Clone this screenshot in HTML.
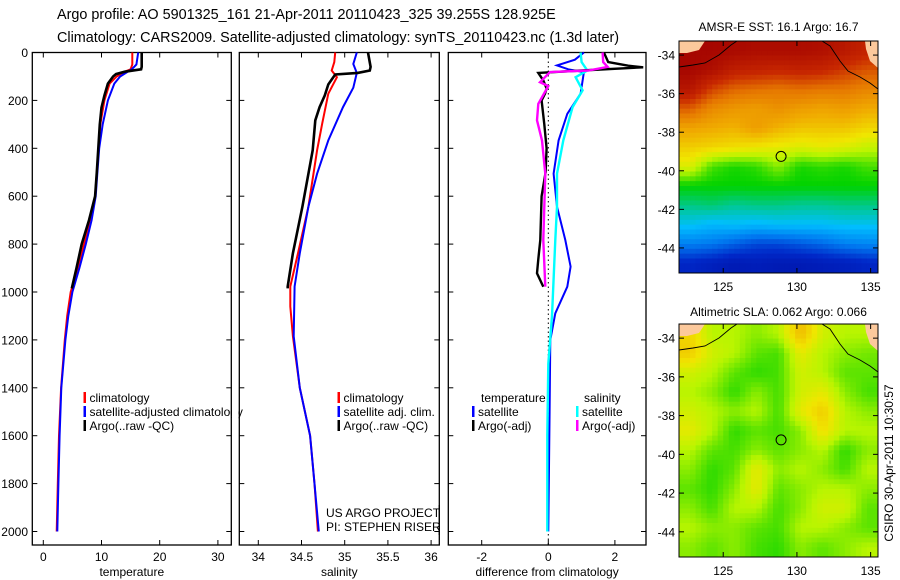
<!DOCTYPE html>
<html><head><meta charset="utf-8">
<style>
html,body{margin:0;padding:0;background:#fff;}
svg{display:block;font-family:"Liberation Sans",sans-serif;}
</style></head>
<body>
<svg id="fig" width="900" height="580" viewBox="0 0 900 580" xmlns="http://www.w3.org/2000/svg">
<rect width="900" height="580" fill="#fff"/>
<text x="57" y="19" font-size="14.4">Argo profile: AO 5901325_161 21-Apr-2011 20110423_325 39.255S 128.925E</text>
<text x="57" y="42" font-size="14.4">Climatology: CARS2009. Satellite-adjusted climatology: synTS_20110423.nc (1.3d later)</text>
<g id="panels"></g>
<g id="maps"></g>
<text transform="translate(893,463) rotate(-90)" font-size="12" text-anchor="middle">CSIRO 30-Apr-2011 10:30:57</text>
</svg>
<script>
// ---------- data ----------
const depthTicks=[0,200,400,600,800,1000,1200,1400,1600,1800,2000];
const tempTicks=[0,10,20,30];
const salTicks=[34,34.5,35,35.5,36];
const diffTicks=[-2,0,2];

const argoTDep=[0,40,60,70,80,90,100,130,180,230,300,400,500,600,700,800,900,985];
const argoT=[16.9,16.9,16.9,16.8,14,12.5,12.0,11.1,10.5,10.0,9.7,9.45,9.2,8.9,7.85,6.6,5.7,4.9];
const climTDep=[0,50,70,80,100,130,200,300,400,500,600,700,800,900,1000,1100,1200,1400,1600,1800,2000];
const climT=[15.3,15.3,15.0,14.0,12.6,11.4,10.5,9.8,9.5,9.2,8.9,8.1,7.0,6.0,4.7,4.1,3.7,3.05,2.7,2.5,2.3];
const satT=[16.3,16.0,15.2,14.5,13.2,12.2,11.1,10.2,9.6,9.3,9.0,8.3,7.3,6.2,5.0,4.3,3.8,3.1,2.8,2.6,2.4];

const argoSDep=[0,60,75,85,92,133,179,228,283,408,644,838,977,985];
const argoS=[35.27,35.30,35.29,35.15,34.89,34.81,34.77,34.71,34.66,34.63,34.51,34.40,34.34,34.34];
const climSDep=[0,40,75,103,172,297,408,644,838,977,1060,1185,1400,1600,1800,2000];
const climS=[34.89,34.88,34.85,34.91,34.81,34.74,34.68,34.58,34.46,34.37,34.37,34.40,34.48,34.60,34.65,34.69];
const satSDep=[0,48,85,147,228,367,506,644,838,977,1185,1400,1600,1800,2000];
const satS=[35.14,35.10,35.14,35.10,34.98,34.81,34.68,34.58,34.48,34.42,34.41,34.48,34.60,34.65,34.70];

const argoDTDep=[0,40,55,62,75,85,117,150,172,200,300,400,500,600,783,863,922,978];
const argoDT=[1.67,1.8,2.4,2.85,1.0,-0.3,-0.15,-0.05,-0.1,-0.2,-0.12,-0.05,-0.08,-0.2,-0.24,-0.3,-0.34,-0.15];
const argoDSDep=[0,40,60,75,82,124,140,214,283,367,506,783,978];
const argoDS=[1.63,1.65,1.78,1.2,0.05,-0.25,0,-0.3,-0.34,-0.19,-0.09,-0.15,-0.09];
const satDTDep=[0,30,54,70,82,172,256,367,506,644,783,894,978,1089,1200,1500,2000];
const satDT=[1.07,0.8,0.26,0.6,1.07,0.97,0.57,0.31,0.16,0.26,0.51,0.67,0.57,0.21,0.06,0.04,0.0];
const satDSDep=[0,40,75,103,158,228,367,506,644,783,1100,1300,1600,2000];
const satDS=[0.97,1.0,1.17,0.82,1.03,0.73,0.45,0.26,0.26,0.21,0.11,0.0,-0.03,-0.03];

const sstGrid=[
[9.8,9.8,9.7,9.6,9.6,9.6,9.5,9.2,8.9],
[9.8,9.5,9.0,8.9,8.8,8.9,8.8,8.5,8.2],
[9.3,8.4,8.0,7.9,7.8,7.9,7.8,7.8,7.6],
[8.1,7.5,7.3,7.2,7.4,7.2,7.1,7.2,7.0],
[7.1,7.0,6.9,7.2,6.9,6.7,6.7,6.7,6.5],
[6.6,6.5,6.4,6.3,6.2,6.1,6.2,6.1,5.9],
[6.1,5.3,5.1,5.2,5.6,5.1,5.2,5.1,5.3],
[5.0,5.0,5.0,5.0,5.0,5.0,5.0,5.0,5.0],
[4.3,4.4,4.2,4.3,4.3,4.2,4.2,4.3,4.3],
[3.6,3.4,3.5,3.4,3.5,3.5,3.5,3.6,3.6],
[2.6,2.5,2.2,1.9,1.9,2.1,2.3,2.6,2.7],
[1.4,1.2,1.0,1.1,1.0,1.0,1.1,1.2,1.4]];
const slaGrid=[
[6.5,5.8,5.8,5.6,5.8,6.8,6.0,5.8,5.8],
[6.6,6.0,5.8,5.4,5.3,6.2,5.8,5.6,5.5],
[6.0,5.8,5.4,5.2,5.3,6.0,5.8,5.4,5.4],
[5.8,5.6,5.2,5.6,5.3,6.0,6.2,5.6,5.3],
[6.0,5.8,5.6,5.8,5.3,6.2,6.6,5.8,5.6],
[6.2,5.8,5.2,5.4,5.3,5.6,6.4,5.8,5.8],
[5.8,5.4,5.3,5.6,5.4,5.6,5.8,5.2,5.6],
[5.6,5.2,5.4,6.2,5.6,5.8,5.6,5.3,5.8],
[5.4,5.2,5.6,6.2,5.4,5.6,5.8,5.8,5.6],
[5.6,5.3,5.8,5.8,5.3,5.6,6.0,6.0,5.4],
[5.8,5.6,5.6,5.4,5.3,5.8,5.8,5.6,5.4],
[5.6,5.4,5.6,5.3,5.2,5.6,5.4,5.6,5.8]];
const lonTicks=[125,130,135];
const latTicks=[-34,-36,-38,-40,-42,-44];
const argoLon=[128.925];
const argoLat=[-39.255];

// ---------- helpers ----------
const NS='http://www.w3.org/2000/svg';
function mk(tag,attrs,parent){const e=document.createElementNS(NS,tag);for(const k in attrs)e.setAttribute(k,attrs[k]);parent.appendChild(e);return e;}
const Y0=52.5, YS=0.2395;
function yD(d){return Y0+d*YS;}
const panelsG=document.getElementById('panels');

const panels=[
 {name:'temperature',x0:32.3,x1:231.3,vx0:43.3,vs:5.82,v0:0,ticks:tempTicks,label:'temperature',ylab:true},
 {name:'salinity',x0:239.3,x1:439.3,vx0:258.3,vs:86.4,v0:34,ticks:salTicks,label:'salinity'},
 {name:'difference',x0:448.3,x1:646,vx0:548.3,vs:33.3,v0:0,ticks:diffTicks,label:'difference from climatology'}
];
const B=545;
panels.forEach(p=>{
 p.fx=v=>p.vx0+(v-p.v0)*p.vs;
 const g=mk('g',{},panelsG);
 
 
 p.g=g;
 mk('rect',{x:p.x0,y:Y0,width:p.x1-p.x0,height:B-Y0,fill:'none',stroke:'#000','stroke-width':1.3},g);
 p.ticks.forEach(t=>{
  const x=p.fx(t);
  mk('line',{x1:x,y1:B,x2:x,y2:B-5,stroke:'#000'},g);
  mk('line',{x1:x,y1:Y0,x2:x,y2:Y0+5,stroke:'#000'},g);
  const tx=mk('text',{x:x,y:561,'font-size':12,'text-anchor':'middle'},g);
  
  
  tx.textContent=String(t);
 });
 depthTicks.forEach(d=>{
  const y=yD(d);
  mk('line',{x1:p.x0,y1:y,x2:p.x0+5,y2:y,stroke:'#000'},g);
  mk('line',{x1:p.x1,y1:y,x2:p.x1-5,y2:y,stroke:'#000'},g);
  if(p.ylab){const tx=mk('text',{x:28,y:y+4.5,'font-size':12,'text-anchor':'end'},g);
   
   
   tx.textContent=String(d);}
 });
 const xl=mk('text',{x:(p.x0+p.x1)/2,y:576,'font-size':12,'text-anchor':'middle'},g);
 
 
 xl.textContent=p.label;
});
function line(p,deps,vals,color,w,name){
 const pts=deps.map((d,i)=>p.fx(vals[i]).toFixed(1)+','+yD(d).toFixed(1)).join(' ');
 const l=mk('polyline',{points:pts,fill:'none',stroke:color,'stroke-width':w,'stroke-linejoin':'miter'},p.g);
 
 
}
const [P1,P2,P3]=panels;
line(P1,climTDep,climT,'#f00',2,'climatology-temp-line');
line(P1,climTDep,satT,'#00f',2,'satellite-temp-line');
line(P1,argoTDep,argoT,'#000',2.6,'argo-temp-line');
line(P2,climSDep,climS,'#f00',2,'climatology-sal-line');
line(P2,satSDep,satS,'#00f',2,'satellite-sal-line');
line(P2,argoSDep,argoS,'#000',2.6,'argo-sal-line');
const zl=mk('line',{x1:P3.fx(0),y1:Y0,x2:P3.fx(0),y2:B,stroke:'#000','stroke-dasharray':'1.5,3'},P3.g);


line(P3,satDTDep,satDT,'#00f',2,'satellite-temp-diff-line');
line(P3,satDSDep,satDS,'#0ff',2.4,'satellite-sal-diff-line');
line(P3,argoDTDep,argoDT,'#000',2.4,'argo-temp-diff-line');
line(P3,argoDSDep,argoDS,'#f0f',2.4,'argo-sal-diff-line');

function legend(g,x,y,color,txt,name){
 const r=mk('rect',{x:x,y:y-10,width:2.5,height:11,fill:color},g);
 
 
 const t=mk('text',{x:x+6,y:y,'font-size':12},g);
 
 
 t.textContent=txt;
}
legend(P1.g,83.5,402,'#f00','climatology','legend-climatology');
legend(P1.g,83.5,416,'#00f','satellite-adjusted climatology','legend-satellite');
legend(P1.g,83.5,430,'#000','Argo(..raw -QC)','legend-argo');
legend(P2.g,337.5,402,'#f00','climatology','legend-climatology');
legend(P2.g,337.5,416,'#00f','satellite adj. clim.','legend-satellite');
legend(P2.g,337.5,430,'#000','Argo(..raw -QC)','legend-argo');
mk('rect',{x:232,y:404,width:6.5,height:16,fill:'#fff'},P1.g);
(function(){
 const t1=mk('text',{x:481,y:402,'font-size':12},P3.g);
 
 
 t1.textContent='temperature';
 const t2=mk('text',{x:584,y:402,'font-size':12},P3.g);
 
 
 t2.textContent='salinity';
})();
legend(P3.g,472,416,'#00f','satellite','legend-temp-satellite');
legend(P3.g,472,430,'#000','Argo(-adj)','legend-temp-argo');
legend(P3.g,576,416,'#0ff','satellite','legend-sal-satellite');
legend(P3.g,576,430,'#f0f','Argo(-adj)','legend-sal-argo');
(function(){
 const a=mk('text',{x:326,y:517,'font-size':12},P2.g);
 
 
 a.textContent='US ARGO PROJECT';
 const b=mk('text',{x:326,y:531,'font-size':12},P2.g);
 
 
 b.textContent='PI: STEPHEN RISER';
 mk('rect',{x:439.9,y:505,width:7.5,height:30,fill:'#fff'},P2.g);
 mk('line',{x1:439.3,y1:505,x2:439.3,y2:535,stroke:'#000','stroke-width':1.3},P2.g);
})();

// ---------- maps ----------
const cmap=[[0,[0,0,140]],[1.5,[0,40,200]],[2.5,[0,120,240]],[3.5,[0,190,255]],[4.2,[0,200,150]],[5,[0,210,0]],[5.8,[185,245,0]],[6.3,[240,230,0]],[7,[240,170,0]],[7.8,[230,120,0]],[8.7,[200,40,0]],[10,[160,0,0]]];
function col(v){
 v=Math.max(0,Math.min(10,v));
 for(let i=1;i<cmap.length;i++){
  if(v<=cmap[i][0]){const a=cmap[i-1],b=cmap[i];const t=(v-a[0])/(b[0]-a[0]);
   const c=a[1].map((x,k)=>Math.round(x+(b[1][k]-x)*t));return 'rgb('+c.join(',')+')';}
 }
 return 'rgb(160,0,0)';
}
function sample(grid,fi,fj){
 const R=grid.length-1,C=grid[0].length-1;
 fi=Math.max(0,Math.min(R,fi));fj=Math.max(0,Math.min(C,fj));
 const i0=Math.floor(fi),j0=Math.floor(fj),i1=Math.min(R,i0+1),j1=Math.min(C,j0+1);
 const a=fi-i0,b=fj-j0;
 return grid[i0][j0]*(1-a)*(1-b)+grid[i1][j0]*a*(1-b)+grid[i0][j1]*(1-a)*b+grid[i1][j1]*a*b;
}
const mapsG=document.getElementById('maps');
const LON0=122.0,LON1=135.5,LAT0=-33.27,LAT1=-45.3;
function drawMap(top,bottom,grid,title,name,titleY,labY){
 const g=mk('g',{},mapsG);
 
 
 const L=679,R=878;
 const fx=lon=>L+(lon-LON0)/(LON1-LON0)*(R-L);
 const fy=lat=>top+(lat-LAT0)/(LAT1-LAT0)*(bottom-top);
 const rows=grid.length, cols=grid[0].length, S=4;
 const nr=rows*S, nc=cols*S;
 const cw=(R-L)/nc, ch=(bottom-top)/nr;
 for(let i=0;i<nr;i++)for(let j=0;j<nc;j++){
  const v=sample(grid,(i+0.5)/S-0.5,(j+0.5)/S-0.5);
  const c=mk('rect',{x:(L+j*cw).toFixed(2),y:(top+i*ch).toFixed(2),width:(cw+0.5).toFixed(2),height:(ch+0.5).toFixed(2),fill:col(v)},g);
  
  
 }
 mk('polygon',{points:`${L},${top} ${L+26},${top} ${L+20},${top+9} ${L+8},${top+12} ${L},${top+12}`,fill:'#fcc99c'},g);
 mk('polygon',{points:`${R-13},${top} ${R},${top} ${R},${top+27} ${R-8},${top+20} ${R-12},${top+8}`,fill:'#fcc99c'},g);
 mk('polyline',{points:`${L},${top+26} ${L+14},${top+24} ${L+26},${top+22} ${L+40},${top+14} ${L+52},${top+4} ${L+58},${top}`,fill:'none',stroke:'#000','stroke-width':0.9},g);
 mk('polyline',{points:`${R-56},${top} ${R-48},${top+5} ${R-38},${top+20} ${R-30},${top+30} ${R-18},${top+36} ${R-8},${top+42} ${R},${top+48}`,fill:'none',stroke:'#000','stroke-width':0.9},g);
 mk('rect',{x:L,y:top,width:R-L,height:bottom-top,fill:'none',stroke:'#000','stroke-width':1},g);
 lonTicks.forEach(lon=>{const x=fx(lon);
  mk('line',{x1:x,y1:bottom,x2:x,y2:bottom-5,stroke:'#000'},g);
  mk('line',{x1:x,y1:top,x2:x,y2:top+5,stroke:'#000'},g);
  const t=mk('text',{x:x,y:labY,'font-size':12,'text-anchor':'middle'},g);
  
  
  t.textContent=String(lon);});
 latTicks.forEach(lat=>{const y=fy(lat);
  mk('line',{x1:L,y1:y,x2:L+5,y2:y,stroke:'#000'},g);
  mk('line',{x1:R,y1:y,x2:R-5,y2:y,stroke:'#000'},g);
  const t=mk('text',{x:675,y:y+4.5,'font-size':12,'text-anchor':'end'},g);
  
  
  t.textContent=String(lat);});
 const c=mk('circle',{cx:fx(argoLon[0]),cy:fy(argoLat[0]),r:5,fill:'none',stroke:'#000','stroke-width':1},g);
 
 
 const t=mk('text',{x:(L+R)/2,y:titleY,'font-size':12,'text-anchor':'middle'},g);
 
 
 t.textContent=title;
}
drawMap(41,273,sstGrid,'AMSR-E SST: 16.1  Argo: 16.7','sst-map',31,291);
drawMap(324,557,slaGrid,'Altimetric SLA: 0.062  Argo: 0.066','sla-map',316,575);
</script>
</body></html>
